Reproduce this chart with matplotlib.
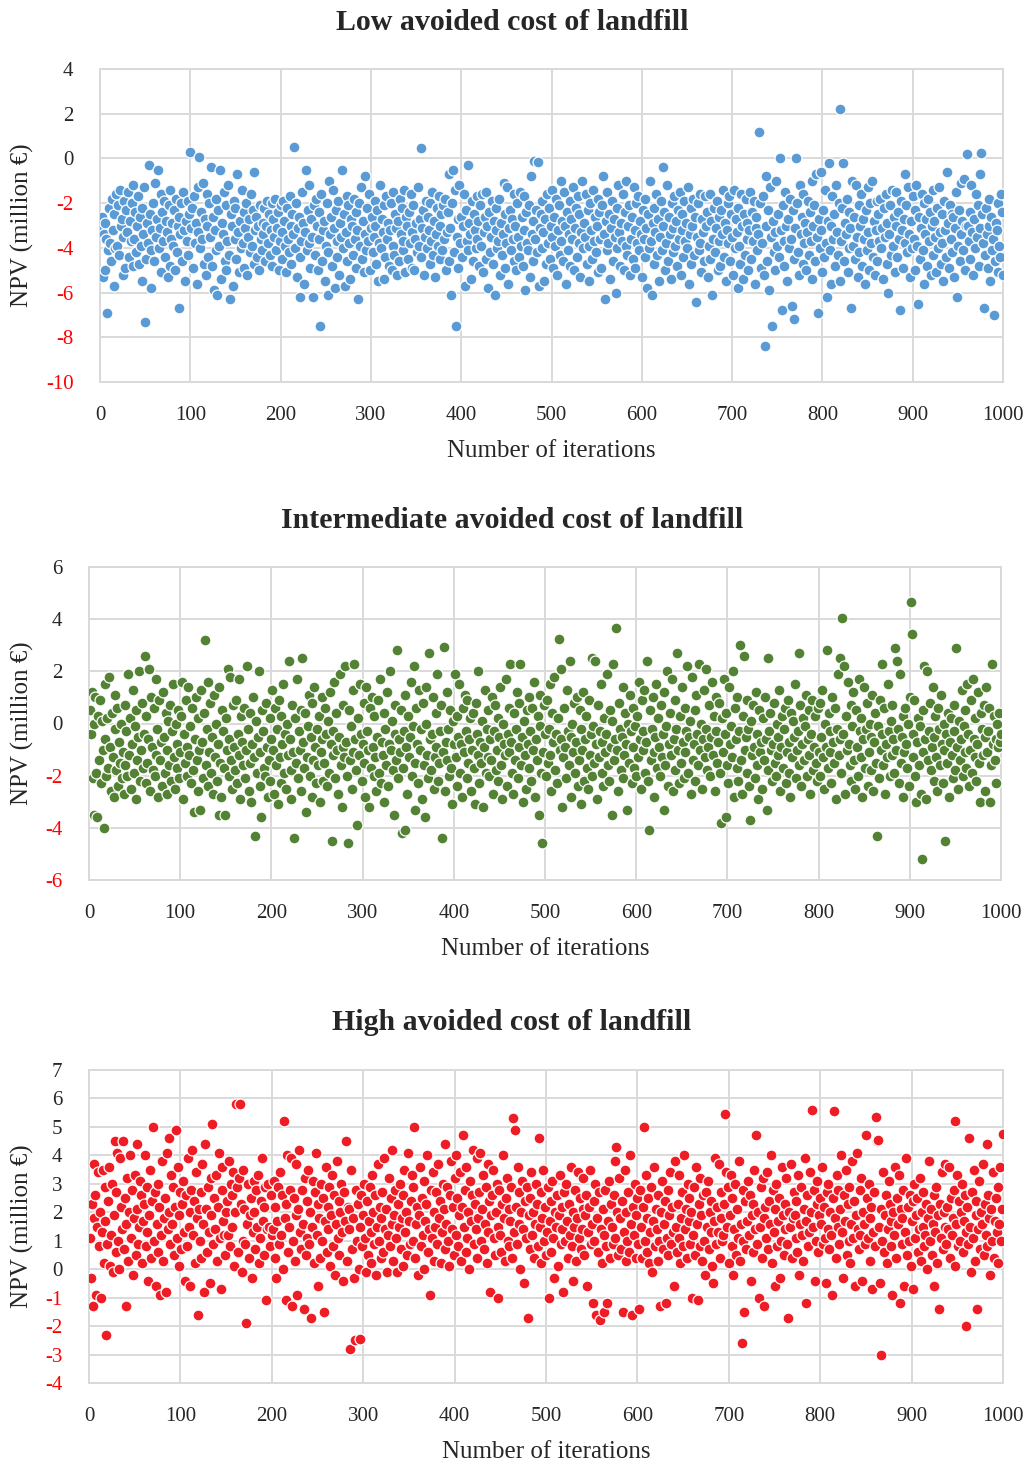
"""Monte Carlo NPV scatter for three avoided-cost-of-landfill scenarios."""

import matplotlib.pyplot as plt
import numpy as np

# NPV (million EUR) per iteration, 20 iterations per line
npv_low = [
    -3.1, -2.6, -5.3, -3.4, -2.9, -5.0, -3.6, -6.9, -4.1, -2.2, -3.8, -4.6, -1.8, -3.2, -5.7, -2.5, -4.0, -1.6, -3.9, -2.1,
    -4.3, -1.4, -3.0, -2.7, -5.2, -3.5, -1.9, -4.9, -2.3, -3.3, -1.5, -4.4, -2.8, -3.7, -2.0, -4.8, -1.2, -3.6, -2.4, -4.2,
    -3.0, -1.7, -4.7, -2.6, -3.9, -5.5, -2.2, -3.4, -1.3, -7.3, -4.5, -2.9, -3.8, -0.3, -2.5, -4.1, -5.8, -3.2, -2.0, -4.6,
    -1.1, -3.5, -2.7, -0.5, -4.0, -3.1, -1.6, -5.1, -2.4, -3.7, -1.9, -4.4, -2.8, -3.3, -5.3, -2.1, -4.8, -1.4, -3.6, -2.9,
    -3.9, -2.3, -5.0, -1.8, -4.2, -3.0, -2.6, -6.7, -3.4, -2.0, -4.6, -1.5, -3.2, -5.5, -2.8, -3.7, -1.9, -4.3, -2.5, 0.3,
    -3.1, -2.2, -4.9, -1.7, -3.8, -2.9, -5.6, -3.3, -1.3, 0.05, -4.0, -2.4, -3.6, -1.1, -4.7, -2.7, -5.2, -3.0, -1.6, -4.4,
    -2.0, -3.5, -0.4, -4.8, -2.6, -5.9, -3.2, -1.8, -4.1, -6.1, -2.3, -3.9, -0.5, -5.4, -2.9, -3.4, -1.5, -4.6, -2.1, -5.0,
    -3.7, -1.2, -4.3, -6.3, -2.5, -3.0, -5.7, -1.9, -3.6, -2.2, -4.5, -0.7, -3.3, -5.1, -2.8, -4.0, -1.4, -3.8, -2.4, -4.9,
    -3.1, -2.0, -5.2, -3.5, -2.7, -4.2, -1.6, -3.9, -2.3, -4.7, -0.6, -3.2, -2.6, -4.4, -3.0, -5.0, -2.1, -3.6, -4.1, -2.9,
    -3.4, -2.2, -4.6, -3.0, -1.9, -3.8, -2.5, -4.3, -3.2, -2.0, -4.8, -2.7, -3.5, -1.8, -4.1, -3.1, -2.4, -5.0, -3.7, -2.1,
    -3.3, -4.5, -1.9, -2.8, -3.9, -5.1, -2.2, -3.6, -4.2, -1.7, -3.0, -4.7, -2.5, -3.4, 0.5, -4.0, -2.0, -5.3, -3.1, -2.6,
    -4.4, -6.2, -3.7, -1.5, -2.9, -5.6, -3.3, -0.5, -4.1, -2.3, -3.8, -1.2, -4.9, -2.7, -3.5, -6.2, -2.1, -4.3, -1.8, -3.0,
    -5.0, -2.4, -3.6, -7.5, -1.6, -4.6, -3.2, -2.8, -5.5, -3.9, -2.0, -6.1, -4.2, -1.0, -3.4, -2.6, -4.8, -1.4, -3.1, -5.8,
    -2.3, -3.7, -4.4, -1.9, -5.2, -2.9, -3.5, -0.5, -4.0, -2.5, -5.7, -3.3, -1.7, -4.6, -2.1, -3.8, -5.4, -2.7, -3.0, -4.3,
    -1.8, -3.6, -2.4, -4.9, -3.2, -6.3, -2.0, -3.9, -1.3, -4.5, -2.8, -5.1, -3.4, -0.8, -4.1, -2.2, -3.7, -1.6, -5.0, -3.1,
    -2.6, -4.2, -3.5, -1.9, -3.0, -4.7, -2.3, -5.5, -3.8, -1.2, -4.0, -2.7, -3.3, -5.4, -2.1, -4.4, -1.7, -3.6, -2.9, -4.8,
    -3.2, -2.0, -5.0, -3.9, -1.5, -4.3, -2.5, -3.1, -5.2, -2.8, -4.6, -1.8, -3.4, -2.2, -4.1, -3.7, -1.4, -5.1, -2.6, -3.0,
    -4.5, -2.4, -3.8, -1.6, -4.9, -3.3, -2.1, -5.0, -3.6, -2.9, -4.2, -1.3, -3.9, -2.7, 0.45, -4.4, -3.1, -2.3, -5.2, -3.5,
    -1.9, -4.0, -2.6, -3.2, -4.7, -2.0, -3.7, -1.5, -4.3, -2.8, -5.3, -3.4, -2.2, -3.9, -1.7, -4.5, -3.0, -2.5, -4.1, -2.1,
    -3.6, -1.8, -5.0, -3.3, -2.4, -4.6, -0.7, -3.1, -6.1, -2.0, -0.5, -4.2, -1.4, -7.5, -3.5, -2.7, -4.9, -1.2, -3.8, -2.6,
    -4.4, -3.0, -1.6, -5.7, -2.3, -3.7, -0.3, -4.1, -2.9, -3.4, -5.4, -1.9, -4.6, -2.5, -3.2, -4.0, -1.7, -3.6, -2.8, -4.8,
    -2.1, -3.9, -1.6, -5.1, -3.3, -2.6, -4.5, -1.5, -3.0, -5.8, -2.4, -4.2, -3.5, -1.9, -4.7, -2.8, -6.1, -3.2, -2.2, -4.0,
    -3.7, -1.8, -5.2, -2.9, -4.3, -3.4, -1.1, -4.9, -2.5, -3.8, -1.3, -5.6, -3.1, -2.3, -4.1, -2.7, -3.6, -1.6, -4.6, -3.0,
    -5.0, -2.0, -3.5, -4.4, -1.5, -3.9, -2.6, -4.8, -3.2, -1.7, -5.9, -2.4, -3.8, -4.1, -2.1, -5.3, -0.8, -3.4, -2.8, -4.6,
    -0.1, -3.6, -2.3, -4.2, -0.15, -5.7, -3.1, -2.5, -4.0, -1.9, -3.3, -5.5, -2.7, -4.7, -1.6, -3.8, -2.2, -4.5, -3.0, -1.4,
    -3.5, -4.9, -2.6, -3.9, -1.8, -5.2, -3.2, -2.1, -4.3, -1.0, -3.7, -2.8, -4.6, -1.5, -3.0, -5.6, -2.4, -4.1, -3.4, -1.9,
    -4.8, -2.7, -3.6, -1.3, -5.0, -3.1, -2.2, -4.4, -1.7, -3.8, -2.5, -5.3, -3.3, -1.0, -4.0, -2.9, -3.5, -1.6, -4.7, -2.3,
    -3.9, -5.5, -2.0, -3.2, -4.5, -1.4, -3.7, -2.6, -4.2, -3.0, -1.8, -5.1, -2.4, -3.6, -4.9, -2.1, -0.8, -3.4, -6.3, -2.8,
    -4.1, -1.5, -3.8, -2.5, -5.4, -3.1, -1.9, -4.6, -2.7, -3.5, -6.0, -2.2, -4.0, -1.2, -3.3, -4.8, -2.9, -3.7, -1.6, -5.0,
    -2.4, -3.9, -1.0, -4.3, -3.0, -2.1, -5.2, -3.6, -2.6, -4.5, -1.3, -3.2, -4.9, -2.0, -3.8, -1.7, -4.1, -2.8, -3.4, -5.3,
    -2.3, -3.6, -4.4, -1.8, -3.1, -5.8, -2.5, -4.0, -1.0, -3.7, -6.1, -2.9, -4.7, -2.2, -3.3, -1.6, -4.3, -2.7, -5.5, -3.5,
    -1.9, -4.1, -0.4, -3.0, -2.4, -5.0, -3.8, -1.2, -4.6, -2.6, -3.4, -5.4, -2.0, -4.2, -3.1, -1.7, -3.9, -2.8, -4.8, -2.3,
    -3.6, -1.5, -5.2, -3.2, -2.5, -4.4, -1.9, -3.7, -2.9, -4.0, -1.3, -5.6, -3.4, -2.2, -4.7, -3.0, -1.8, -4.3, -2.6, -6.4,
    -3.5, -2.0, -4.1, -1.6, -3.8, -5.1, -2.7, -3.3, -4.6, -1.7, -3.0, -2.4, -5.3, -3.9, -1.6, -4.5, -2.8, -6.1, -3.6, -2.2,
    -4.2, -3.1, -1.9, -5.0, -2.6, -3.7, -4.8, -2.3, -3.4, -1.4, -4.4, -2.9, -5.5, -3.2, -2.0, -3.8, -1.7, -4.6, -2.5, -3.5,
    -5.2, -1.4, -4.0, -2.7, -3.3, -5.8, -2.2, -3.9, -4.7, -1.6, -3.0, -5.4, -2.5, -4.3, -1.8, -3.6, -2.9, -5.0, -3.2, -1.5,
    -4.5, -2.4, -3.7, -1.9, -5.6, -3.1, -2.6, -4.1, -3.4, 1.2, -2.0, -4.9, -3.8, -1.7, -5.2, -8.4, -0.8, -3.0, -4.6, -2.3,
    -5.9, -1.3, -3.5, -7.5, -2.8, -4.2, -3.3, -5.0, -1.0, -3.9, -2.5, -4.4, 0.0, -3.2, -6.8, -2.1, -3.7, -4.8, -1.5, -3.0,
    -5.5, -2.7, -4.0, -1.8, -3.6, -6.6, -2.3, -4.5, -7.2, -3.1, 0.0, -2.0, -4.2, -5.2, -1.2, -3.4, -2.6, -4.7, -1.6, -3.8,
    -2.9, -5.0, -3.3, -1.9, -4.3, -2.4, -3.7, -1.0, -5.4, -3.0, -2.1, -4.6, -0.7, -3.5, -6.9, -2.7, -4.0, -0.6, -3.2, -5.1,
    -2.3, -4.4, -1.4, -3.8, -6.2, -2.8, -0.2, -4.1, -3.0, -5.6, -1.7, -3.6, -2.5, -4.8, -1.2, -3.3, -4.3, -2.0, -5.5, 2.2,
    -3.7, -2.2, -0.2, -4.6, -2.9, -3.4, -1.8, -5.1, -2.4, -4.0, -3.1, -6.7, -1.0, -3.9, -2.6, -4.5, -1.2, -3.5, -5.3, -2.1,
    -4.2, -3.0, -1.6, -4.8, -2.7, -3.6, -5.6, -2.3, -4.1, -1.3, -3.3, -5.0, -2.0, -3.8, -1.0, -4.4, -2.8, -5.2, -3.2, -1.9,
    -4.6, -2.5, -3.7, -1.8, -4.0, -3.1, -5.4, -2.2, -3.5, -1.6, -4.7, -2.9, -6.0, -3.4, -2.1, -4.3, -1.4, -3.9, -2.6, -5.1,
    -3.0, -1.5, -4.4, -2.4, -3.6, -6.8, -1.9, -3.2, -4.9, -2.7, -0.7, -3.8, -2.1, -4.2, -1.3, -3.4, -5.3, -2.8, -4.0, -1.7,
    -3.6, -2.3, -5.0, -1.2, -3.9, -6.5, -2.6, -4.5, -3.1, -1.6, -4.1, -2.0, -5.6, -3.4, -2.7, -4.8, -1.8, -3.7, -2.4, -5.2,
    -3.0, -1.4, -4.3, -2.8, -3.5, -5.1, -2.2, -4.0, -1.3, -3.3, -4.7, -2.5, -3.8, -5.5, -1.9, -3.2, -4.4, -0.6, -2.9, -4.9,
    -2.1, -3.6, -2.5, -4.2, -2.6, -5.3, -3.1, -1.5, -6.2, -3.9, -2.3, -4.6, -1.1, -3.4, -2.8, -4.1, -0.9, -5.0, -3.0, 0.2,
    -3.0, -3.7, -2.4, -4.5, -1.2, -3.3, -5.2, -2.7, -4.0, -1.6, -3.5, -2.1, -4.8, -0.7, -3.1, 0.25, -2.5, -3.8, -6.7, -4.3,
    -2.2, -3.4, -4.9, -1.8, -3.0, -5.5, -2.6, -4.1, -3.6, -7.0, -4.6, -2.9, -3.2, -5.1, -2.0, -3.9, -4.4, -1.6, -2.4, -5.2,
]

npv_mid = [
    0.5, -0.4, 1.2, -2.1, 0.0, -3.5, 1.0, -1.9, -3.6, 0.3, -1.4, 0.9, -2.3, 0.1, -1.0, -4.0, -0.6, 1.5, -2.0, 0.2,
    -1.7, 1.8, -0.9, -2.6, 0.4, -1.3, -2.8, -0.2, 1.1, -1.8, 0.6, -2.4, -0.7, -1.5, 0.0, -2.1, -1.1, -2.7, 0.7, -1.6,
    -0.3, -2.0, 1.9, -1.2, 0.2, -2.5, -0.8, 1.3, -1.9, -0.1, -2.9, 0.5, -1.4, -0.5, 2.0, -2.2, -1.0, 0.8, -1.7, -0.4,
    2.6, -2.3, 0.3, -1.5, -0.6, 2.1, -2.6, 1.0, -0.9, -1.8, 0.6, -2.0, -1.2, 1.7, -0.2, -2.8, 0.9, -1.4, -0.7, -2.4,
    1.2, -0.5, -1.9, 0.4, -2.7, -1.0, 0.1, -1.6, 0.7, -2.2, -0.3, 1.5, -1.3, -2.5, 0.0, -0.8, -1.7, 0.5, -2.1, -1.1,
    0.3, 1.6, -2.9, -0.4, -1.5, 0.9, -2.0, -0.9, 1.4, -1.2, -0.1, -2.3, 0.6, -1.8, -3.4, -0.6, 1.0, -1.4, -2.6, 0.2,
    -1.0, -3.3, 1.3, -0.7, -2.1, 0.4, 3.2, -1.6, -0.2, 1.6, -2.4, -1.1, 0.8, -1.9, -0.5, -2.7, 1.1, -1.3, 0.0, -2.2,
    -0.8, -3.5, 1.4, -1.5, -2.8, 0.5, -0.3, -1.7, -3.5, 0.2, -1.0, 2.1, -2.0, -0.6, 1.8, -1.4, -2.5, 0.7, -0.9, -1.8,
    0.9, -2.3, -0.4, 1.7, -1.2, -2.9, 0.3, -0.7, -1.6, 0.6, -2.1, -1.0, 2.2, -0.2, -2.6, -1.5, 0.4, -3.0, -0.8, 1.0,
    -1.3, -4.3, 0.1, -1.9, -0.5, 2.0, -2.4, -1.1, -3.6, 0.5, -0.3, -1.7, -2.0, 0.8, -0.9, -2.8, -1.4, 0.2, -2.2, -0.6,
    1.3, -1.0, -2.7, 0.6, -1.6, -0.2, -3.1, 0.9, -1.3, -2.3, 0.3, -0.8, 1.5, -1.9, -0.4, -2.5, 0.0, -1.2, 2.4, -0.6,
    -1.8, -2.9, 0.7, -1.1, -4.4, 0.2, -1.5, 1.7, -2.1, -0.3, -1.0, 0.5, -2.6, 2.5, -0.7, -1.7, 0.4, -3.4, -1.3, -0.1,
    1.1, -2.0, -0.5, -2.8, 0.8, -1.4, 1.4, -0.9, -2.3, -0.2, -1.6, 0.3, -3.0, -1.1, 1.0, -0.6, -2.2, -1.5, 0.6, -0.4,
    -2.4, 0.1, -1.9, 1.2, -0.8, -4.5, -1.2, -0.3, 1.6, -2.1, 0.4, -1.0, -2.7, -0.5, 1.9, -1.6, -3.2, 0.7, -0.9, -1.3,
    2.2, -0.7, -2.0, -4.6, 0.5, -1.4, -0.1, -2.5, 1.3, -1.1, 2.3, -0.6, -1.8, -3.9, 0.2, -1.2, 1.5, -0.4, -2.2, -0.8,
    -1.5, 0.8, -2.8, 1.4, -0.3, -1.0, -3.2, 0.6, -1.7, 1.0, -0.9, -2.0, 0.3, -1.3, -2.6, -0.5, 0.9, -1.9, 1.7, -2.3,
    -0.7, -1.2, 0.4, -3.0, -0.2, -1.6, 1.2, -2.4, -0.8, 2.0, -1.0, 0.1, -1.8, -3.5, 0.7, -0.4, -1.4, 2.8, -2.1, -0.6,
    -1.1, 0.5, -4.2, -1.7, -0.3, 1.1, -4.1, -0.9, -2.7, 0.3, -1.3, -0.5, 1.6, -2.0, -0.1, 2.2, -1.5, -3.3, 0.6, -0.8,
    -2.3, 1.3, -1.0, -0.2, -2.9, 0.8, -1.6, -3.6, 0.0, 1.4, -1.2, -2.1, 2.7, -0.6, -1.8, -0.4, 1.0, -2.5, -1.3, 0.4,
    -0.9, 1.9, -2.2, -1.5, -0.3, 0.7, -4.4, -1.1, 2.95, -2.6, -0.7, 1.2, -1.4, -0.2, -2.0, 0.5, -1.7, -3.1, 0.1, -0.8,
    1.9, -1.3, -2.4, 0.3, -0.5, 1.5, -1.9, -0.8, -2.8, 0.6, -1.1, 1.1, -0.3, -2.1, 0.9, -1.5, -0.6, 0.2, -2.6, -1.0,
    0.4, -1.7, -3.1, 0.8, -0.4, -1.2, 2.0, -2.3, -0.7, -1.5, 0.1, -3.2, -0.9, 1.3, -1.9, -0.2, -1.3, 0.5, -2.0, -0.6,
    -1.4, 1.0, -2.7, -0.3, 0.7, -1.8, -1.0, -2.2, 0.2, -0.5, 1.4, -1.6, -2.9, 0.0, -0.8, -1.2, 1.7, -2.4, -0.4, 0.6,
    -1.1, 2.3, -0.7, -1.9, -2.7, 0.4, -1.4, -0.2, 1.2, -2.1, -0.9, 0.8, 2.3, -1.6, -0.5, -3.0, 0.1, -1.2, -2.5, 0.5,
    -0.8, -1.7, 1.0, -0.3, -2.2, 0.6, -1.0, 1.6, -2.8, -0.6, -1.4, 0.3, -3.5, -0.1, 1.1, -1.9, -4.6, -1.1, 0.7, -0.4,
    -2.0, 0.9, -1.5, -0.2, 1.5, -1.2, -2.6, 0.4, -0.7, 1.8, -1.8, -0.4, -2.3, 0.2, 3.25, -1.0, -0.6, 2.1, -3.2, -1.3,
    0.6, -0.9, -2.1, 1.3, -0.3, -1.6, 2.4, -0.5, -2.8, 0.0, -1.1, 0.8, -1.9, -0.7, 1.0, -2.4, -1.4, 0.5, -3.1, -0.2,
    -1.0, 1.2, -2.2, -0.6, 0.3, -1.7, -2.5, 0.9, -1.2, -0.4, 2.5, -2.0, -0.1, -1.5, 2.4, -0.8, -2.9, 0.7, -1.3, -0.3,
    1.5, -1.9, -0.7, -2.4, 0.2, -1.1, -0.4, 1.9, -1.6, -2.2, 0.5, -0.9, -3.5, 0.1, 2.3, -1.4, -0.6, 3.65, -1.0, -2.6,
    0.8, -0.2, -1.8, -0.5, 1.4, -2.1, -1.2, 0.4, -0.8, -3.3, 0.0, -1.5, 1.1, -0.3, -2.3, -0.9, 0.6, -1.7, -0.1, -2.0,
    0.3, -1.3, 1.6, -0.6, -2.5, 0.9, -1.0, -0.3, 1.3, -1.9, -0.7, 2.4, -2.2, -4.1, 0.5, -1.4, -0.2, 1.0, -1.1, -2.8,
    -0.5, 1.5, -1.7, 0.2, -0.9, -2.0, 0.7, -1.3, -0.4, -3.3, 1.2, -1.6, -0.1, 2.0, -2.4, -0.8, 0.4, -1.2, 1.7, -2.6,
    -0.6, 0.9, -1.8, -0.2, 2.7, -1.0, -2.3, 0.3, -1.5, 1.4, -0.7, -2.1, 0.6, -1.1, -0.3, 2.2, -1.9, -0.5, 0.1, -2.7,
    1.8, -1.4, -0.8, 0.5, -2.2, 1.1, -0.4, -1.6, 2.3, -1.0, 0.0, -2.5, -0.6, 1.3, -1.3, -0.2, 2.1, -1.8, -0.9, 0.7,
    -2.0, -0.5, 1.6, -1.2, 0.3, -2.6, -0.3, 1.0, -1.5, -0.7, 0.8, -1.9, -3.8, 0.2, -1.1, 1.7, -0.4, -3.6, 0.4, -1.6,
    -2.3, 1.4, -0.8, -0.1, -1.3, 2.0, -2.8, 0.6, -0.6, -1.7, 1.0, -2.2, -0.3, 3.0, -1.4, -2.7, 0.3, 2.6, -1.0, -0.5,
    -1.9, 0.9, -0.2, -2.4, -3.7, 0.1, -1.2, 0.7, -0.9, -2.1, 1.2, -0.4, -1.6, -2.9, 0.5, -1.1, -0.7, -2.5, 0.2, -1.4,
    1.0, -0.6, -3.3, 2.5, -1.8, -0.3, 0.4, -1.0, -2.2, -0.8, 0.8, -1.5, -2.0, 0.0, -1.2, -0.5, 1.3, -2.6, -0.9, 0.3,
    -1.7, -0.2, 0.6, -2.3, -1.1, 0.9, -0.7, -1.9, -2.8, 0.4, -1.3, 0.1, -0.5, 1.5, -2.1, -1.0, -0.3, 2.7, -1.6, 0.7,
    -2.4, -0.8, 0.2, -1.4, -0.1, 1.1, -2.0, -0.6, -1.2, 0.5, -2.7, -0.4, 0.9, -1.8, -0.9, 0.3, -1.5, -2.2, 0.6, -1.1,
    0.8, -2.0, -0.5, 1.3, -1.3, -2.5, 0.0, -0.9, 2.8, -1.7, 0.4, -1.1, -0.3, -2.3, 1.0, -0.7, -1.5, 0.6, -2.9, -0.2,
    1.9, -1.2, -0.6, 2.5, -1.9, 4.05, -0.4, 2.2, -2.7, 0.3, -1.0, 1.6, -0.8, -1.6, 0.7, -2.2, -0.1, 1.2, -1.4, -2.5,
    0.5, -0.9, -2.0, 1.7, -0.3, -1.3, 0.2, -2.8, -0.6, 1.4, -1.7, -0.2, 0.8, -2.4, -1.1, 0.0, -0.5, -1.8, 1.1, -2.6,
    -0.7, 0.4, -1.5, -4.3, -0.1, -2.1, 0.9, -1.0, -0.4, 2.3, -1.6, 0.6, -2.7, -0.8, -1.3, 1.5, -0.3, -2.0, 0.1, -1.2,
    0.7, -0.6, -1.9, 2.9, -1.0, 2.4, -0.2, -2.3, 1.9, -1.5, -0.5, 0.3, -2.8, -1.1, 0.6, -0.8, -1.7, 0.0, -2.4, 1.0,
    4.65, 3.45, -0.4, -1.3, 0.9, -2.0, -3.0, -0.7, 0.2, -1.6, -0.1, -2.7, -5.2, 0.5, -1.1, 2.2, -0.6, -2.9, 2.0, -1.4,
    -0.3, 0.8, -1.8, -0.9, 1.4, -2.2, -0.5, 0.3, -1.3, -2.6, 0.6, -0.2, -1.6, 1.1, -0.8, -2.3, 0.0, -1.0, -4.5, -0.4,
    -1.5, 0.4, -2.8, -0.7, 0.2, -1.2, -2.1, 0.7, -0.3, -1.8, 2.9, -0.9, -2.5, 0.1, -1.4, -0.6, 1.3, -2.0, -0.1, -1.1,
    0.5, -1.7, 1.5, -0.4, -2.4, -1.0, 0.9, -1.9, 1.7, -0.6, -1.3, 0.2, -2.2, -0.8, 1.2, -1.5, -3.0, 0.4, -0.2, -1.2,
    0.7, -2.6, -0.5, 1.4, -1.1, -0.3, 0.6, -3.0, -1.6, 2.3, -0.8, 0.3, -1.4, -0.6, -2.3, 0.0, -0.9, 0.4, -0.7, -0.4,
]

npv_high = [
    1.1, -0.3, 2.3, -1.3, 3.7, 1.8, 2.6, -0.9, 1.5, 3.4, 0.8, 2.0, -1.0, 1.3, 3.5, 0.2, 1.7, 2.9, -2.3, 0.9,
    2.4, 3.6, 0.1, 1.2, 3.0, -0.1, 1.9, 4.5, 0.6, 2.7, 4.1, 1.0, 0.0, 3.9, 2.2, 1.4, 4.5, 0.7, 2.5, -1.3,
    1.6, 3.2, 0.3, 2.0, 4.0, 1.1, 2.8, -0.2, 1.8, 3.3, 0.5, 4.4, 2.1, 0.9, 1.5, 3.1, 2.6, 0.2, 1.7, 2.3,
    4.0, 0.8, 1.3, 2.9, -0.4, 1.9, 3.5, 0.4, 2.4, 5.0, 1.0, 2.7, -0.6, 1.6, 3.0, 0.6, 2.2, -0.9, 1.2, 3.8,
    0.3, 1.8, 2.5, -0.8, 4.1, 1.4, 2.0, 4.6, 0.9, 3.3, 1.6, 2.9, 0.5, 2.2, 4.9, 1.1, 3.6, 0.1, 1.9, 2.7,
    0.7, 2.3, 3.1, 1.3, -0.4, 2.6, 0.8, 3.9, 1.5, 2.0, -0.6, 2.8, 4.2, 1.2, 2.4, 0.2, 3.4, 1.8, -1.6, 2.1,
    1.0, 2.7, 0.4, 3.7, 1.6, -0.8, 4.4, 2.1, 0.6, 2.9, 1.3, -0.5, 3.2, 1.9, 5.1, 0.9, 2.5, 1.4, 3.3, 0.3,
    2.2, 4.1, 1.1, -0.7, 2.8, 3.6, 1.7, 1.2, 0.5, 2.0, 2.4, 1.2, 3.8, 0.8, 3.0, 2.6, 1.5, 3.4, 0.1, 2.0,
    5.8, 2.9, 0.6, 3.2, 5.8, 2.3, -0.1, 1.0, 3.5, 2.1, 0.9, -1.9, 1.6, 3.0, 0.4, 1.9, 2.5, -0.3, 1.3, 3.1,
    2.0, 0.7, 2.8, 1.5, 3.3, 0.2, 1.1, 2.4, 3.9, 1.7, 0.5, 2.2, 2.9, -1.1, 1.4, 3.0, 1.5, 0.8, 2.6, 1.2,
    1.4, 3.1, 0.4, 2.2, -0.3, 1.7, 2.9, 0.9, 3.4, 1.2, 2.6, 0.0, 5.2, 1.8, -1.1, 2.3, 4.0, 0.6, 1.5, 2.8,
    3.9, -1.3, 1.0, 2.5, 0.3, 3.7, 1.9, -0.9, 2.1, 4.2, 1.3, 0.7, 2.8, 1.6, -1.4, 3.2, 0.5, 2.4, 1.1, 3.5,
    0.9, 2.0, -1.7, 1.5, 3.1, 0.2, 2.7, 4.1, 1.2, -0.6, 2.3, 1.8, 0.4, 3.0, 1.0, 2.5, -1.5, 1.7, 3.6, 0.6,
    2.2, 1.4, 2.9, 0.1, 1.9, 3.3, 0.8, 2.6, -0.2, 1.6, 3.8, 1.1, 2.4, 0.5, 2.0, 3.0, 1.3, -0.4, 2.7, 1.7,
    4.5, 0.3, 2.2, 2.1, 1.4, -2.8, 3.5, 0.7, 1.8, -0.3, -2.5, 2.8, 1.0, 2.3, 0.0, -2.45, 1.5, 2.6, 0.8, 1.9,
    3.0, 1.1, -0.1, 2.4, 0.5, 1.7, 2.9, 0.2, 1.3, 3.3, 2.0, 0.9, 2.6, -0.2, 1.5, 3.7, 1.0, 2.2, 0.4, 1.8,
    2.7, 0.6, 3.9, 1.4, 2.1, -0.1, 1.2, 3.2, 0.8, 2.5, 1.6, 4.2, 0.3, 1.9, 2.8, 1.1, -0.1, 2.3, 1.5, 3.0,
    0.7, 1.8, 2.6, 0.1, 3.5, 1.3, 2.0, 0.5, 4.1, 1.7, 0.9, 2.4, 3.3, 1.0, 2.9, 5.0, 0.4, 1.6, 2.2, -0.2,
    1.9, 3.6, 0.8, 2.5, 1.2, 0.0, 3.1, 1.7, 2.3, 4.0, 0.6, 1.4, -0.9, 2.8, 1.1, 3.4, 0.3, 2.0, 1.5, 2.7,
    0.9, 3.7, 1.8, 2.4, 0.2, 1.3, 3.0, 2.1, 4.4, 0.7, 1.6, 2.9, 1.0, 0.1, 2.6, 3.8, 1.4, 2.2, 0.5, 3.2,
    1.2, 4.0, 2.5, 0.8, 1.9, 3.4, 0.3, 2.2, 4.7, 1.5, 2.8, 0.6, 3.6, 1.1, 2.0, 0.0, 3.1, 1.7, 2.6, 4.2,
    0.9, 2.3, 1.4, 3.9, 0.4, 1.8, 2.7, 4.1, 1.0, 2.1, 3.3, 0.7, 1.6, 2.9, 0.2, 3.7, 1.3, 2.4, -0.8, 1.9,
    2.6, 3.5, 1.1, 0.5, 2.0, 3.0, 1.5, -1.0, 2.8, 1.2, 0.6, 2.3, 4.0, 1.8, 0.3, 2.5, 3.2, 1.0, 2.1, 0.8,
    1.7, 2.9, 0.4, 5.3, 1.3, 4.9, 2.2, 0.9, 3.6, 1.6, 2.7, 0.0, 2.0, 3.1, 1.4, -0.5, 2.4, 1.1, 2.9, -1.7,
    1.9, 0.7, 2.5, 3.4, 1.2, 2.0, 0.4, 1.6, 3.0, 2.3, 0.8, 4.6, 1.5, 2.7, 0.2, 1.8, 3.5, 1.0, 2.2, 0.5,
    1.3, 2.9, -1.0, 1.7, 2.4, 0.6, 3.1, 1.1, -0.3, 2.0, 1.5, 2.6, 0.1, 1.9, 3.3, 0.9, 2.2, 1.4, -0.8, 2.7,
    1.0, 3.0, 1.7, 0.4, 2.3, 1.2, 3.6, 0.8, 2.0, -0.4, 1.5, 2.8, 0.3, 1.8, 3.4, 1.1, 2.5, 0.7, 1.4, 2.1,
    3.2, 0.5, 1.9, 2.6, -0.6, 1.3, 2.2, 3.5, 0.9, 1.6, -1.2, 2.4, 1.0, 3.0, -1.6, 1.8, 0.6, 2.7, -1.8, 1.4,
    0.2, 2.1, -1.5, 1.2, 2.8, 0.8, -1.2, 1.7, 3.1, 0.4, 2.3, 1.5, 0.9, 2.6, 3.8, 1.1, 4.3, 2.0, 0.5, 3.2,
    1.8, 0.7, 2.4, -1.5, 1.3, 3.5, 0.3, 2.0, 1.0, 2.7, 0.6, 4.0, 1.6, -1.6, 2.2, 1.2, 3.0, 0.4, 1.9, 2.5,
    0.9, -1.4, 2.8, 1.5, 0.4, 2.2, 5.0, 1.0, 3.3, 0.6, 1.8, 2.5, 0.2, 1.3, 2.9, -0.1, 1.7, 3.6, 0.8, 2.1,
    1.4, 0.3, 2.6, 1.0, -1.3, 2.0, 3.1, 0.7, 1.6, 2.4, -1.2, 1.1, 2.8, 0.5, 1.9, 3.4, 0.9, 2.2, 1.3, -0.6,
    3.8, 1.5, 0.6, 2.3, 3.3, 1.1, 0.2, 1.8, 2.7, 0.8, 4.0, 1.4, 2.1, 0.4, 3.0, 1.7, 2.5, 0.9, 2.0, -1.0,
    1.2, 2.9, 0.5, 3.6, 1.6, -1.1, 2.3, 0.8, 3.2, 1.9, 0.3, 2.6, 1.0, -0.2, 2.7, 1.5, 3.1, 0.7, 2.0, 1.3,
    2.4, 0.1, -0.5, 1.7, 3.9, 0.9, 2.2, 1.3, 3.7, 0.4, 1.8, 2.7, 1.0, 1.2, 2.3, 5.45, 3.4, 1.5, 2.9, 0.2,
    1.9, 3.3, 0.8, 2.5, -0.2, 1.4, 3.0, 0.5, 2.1, 1.1, 3.8, 0.3, 1.6, -2.6, 2.8, 1.0, -1.5, 2.4, 0.7, 1.7,
    3.1, 1.2, 2.6, -0.4, 1.9, 0.6, 2.3, 3.5, 1.4, 4.7, 0.9, 2.0, -1.0, 1.5, 2.9, 0.4, 3.2, 1.8, -1.3, 2.2,
    1.1, 3.4, 0.7, 2.4, 1.6, 4.0, 0.2, 2.8, 1.3, -0.6, 2.1, 3.0, 0.8, 1.7, 2.5, -0.3, 1.0, 3.6, 1.9, 0.5,
    2.3, 1.4, 3.2, 0.9, -1.7, 2.0, 1.5, 3.7, 0.4, 1.8, 2.7, 1.9, 1.1, 2.4, 0.6, 3.3, -0.2, 1.6, 2.9, 1.2,
    0.3, 2.1, 3.9, -1.2, 1.7, 2.6, 0.8, 1.3, 3.4, 2.0, 5.6, 1.5, 2.8, -0.4, 1.0, 2.3, 3.1, 0.6, 1.9, 2.5,
    1.6, 3.6, 0.9, 2.2, 1.1, -0.5, 2.7, 1.4, 3.0, 0.7, 2.0, 1.2, -0.9, 2.5, 5.55, 1.8, 0.4, 3.3, 1.5, 2.8,
    0.9, 2.1, 4.0, 1.3, -0.3, 2.6, 1.7, 3.5, 0.5, 2.3, 1.0, 2.9, 0.2, 1.6, 3.8, 1.1, 2.4, -0.6, 1.9, 4.1,
    1.4, 0.7, 2.8, 1.2, 3.2, -0.4, 2.0, 1.6, 0.9, 4.7, 2.5, 1.1, 3.0, 0.3, 1.8, 2.2, -0.7, 1.3, 2.7, 0.8,
    5.35, 4.5, 4.55, 1.5, -0.5, 2.1, -3.0, 1.0, 3.4, 0.6, 1.9, 2.6, 0.2, 1.4, 3.1, 2.3, 0.8, 1.7, -0.9, 2.0,
    1.2, 3.6, 0.4, 2.5, 1.6, 3.3, -1.2, 2.1, 0.9, 1.8, 2.8, -0.6, 1.3, 3.9, 0.5, 2.2, 1.0, 2.6, 0.1, 1.7,
    2.4, -0.7, 3.0, 1.1, 1.9, 2.5, 0.6, 1.4, 3.2, 0.3, 2.0, 1.5, 2.7, 0.8, 1.2, 2.3, 0.0, 1.8, 3.8, 1.0,
    2.1, 0.5, 1.6, 2.6, -0.6, 1.3, 2.9, 0.2, 1.9, -1.4, 2.3, 1.1, 3.4, 0.7, 2.0, 1.5, 3.7, 0.9, 2.2, 1.4,
    3.6, 0.4, 2.5, 1.2, 1.8, 2.8, 0.1, 5.2, 1.6, 3.3, 0.8, 2.4, 1.0, 2.0, 3.0, 0.6, 1.7, 2.6, -2.0, 1.3,
    2.2, 0.9, 4.6, 1.5, -0.1, 2.7, 1.1, 3.5, 0.3, 1.9, 2.4, -1.4, 1.4, 3.1, 0.7, 2.0, 1.6, 3.7, 0.5, 2.3,
    1.2, 4.4, 0.8, 2.6, 1.8, -0.2, 2.1, 1.0, 3.4, 0.4, 1.7, 2.5, 1.3, 0.2, 2.9, 1.6, 3.6, 1.0, 2.1, 4.75,
]

TITLES = [
    "Low avoided cost of landfill",
    "Intermediate avoided cost of landfill",
    "High avoided cost of landfill",
]
COLORS = ["#5B9BD5", "#548235", "#EE1C25"]
Y_LIMITS = [(-10, 4), (-6, 6), (-4, 7)]
Y_STEPS = [2, 2, 1]
X_TICKS = list(range(0, 1001, 100))

FONT = "Liberation Serif"
GRID_COLOR = "#D9D9D9"
TEXT_COLOR = "#262626"
NEG_COLOR = "#FF0000"

# axes boxes in figure pixels: left, top, right, bottom
BOXES = [(100, 69, 1003, 382), (89, 567, 1001, 880), (89, 1070, 1003, 1383)]
TITLE_Y = [22, 520, 1022]
W, H = 1029, 1466

plt.rcParams["font.family"] = [FONT, "DejaVu Serif"]
plt.rcParams["axes.unicode_minus"] = False

fig = plt.figure(figsize=(W / 100, H / 100), dpi=100)

for values, title, color, (ymin, ymax), ystep, (l, t, r, b), ty in zip(
    [npv_low, npv_mid, npv_high], TITLES, COLORS, Y_LIMITS, Y_STEPS, BOXES, TITLE_Y
):
    ax = fig.add_axes([l / W, 1 - b / H, (r - l) / W, (b - t) / H])
    y = np.asarray(values, dtype=float)
    x = np.arange(1, len(y) + 1)
    ax.scatter(x, y, s=62, color=color, edgecolors="white", linewidths=0.9, zorder=3)

    ax.set_xlim(0, 1000)
    ax.set_ylim(ymin, ymax)
    ax.set_xticks(X_TICKS)
    yticks = list(range(ymin, ymax + 1, ystep))
    ax.set_yticks(yticks)
    ax.grid(True, color=GRID_COLOR, linewidth=1.4, zorder=0)
    ax.set_axisbelow(True)
    for spine in ax.spines.values():
        spine.set_color(GRID_COLOR)
        spine.set_linewidth(1.4)

    ax.tick_params(axis="both", length=0, labelsize=15, colors=TEXT_COLOR)
    ax.tick_params(axis="x", pad=17)
    ax.tick_params(axis="y", pad=19)
    for lab, val in zip(ax.get_yticklabels(), yticks):
        lab.set_color(NEG_COLOR if val < 0 else TEXT_COLOR)

    ax.set_xlabel("Number of iterations", fontsize=18, color=TEXT_COLOR)
    ax.xaxis.set_label_coords(0.5, -(451 - 382) / (b - t))
    ax.xaxis.label.set_va("center")
    ax.set_ylabel("NPV (million €)", fontsize=18, color=TEXT_COLOR)
    ax.yaxis.set_label_coords(-(l - 22) / (r - l), 0.5)
    ax.yaxis.label.set_va("center")

    fig.text(512 / W, 1 - ty / H, title, ha="center", va="center",
             fontsize=21.5, fontweight="bold", color=TEXT_COLOR)

fig.savefig("out.png", dpi=100)
